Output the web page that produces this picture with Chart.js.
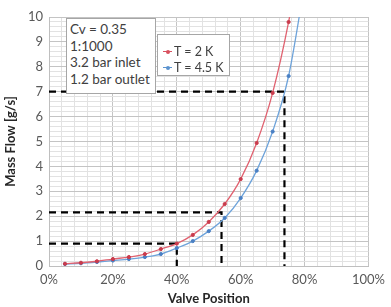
<!DOCTYPE html>
<html lang="en">
<head>
  <meta charset="UTF-8" />
  <title>Mass Flow vs Valve Position</title>
  <script src="https://cdn.jsdelivr.net/npm/chart.js"></script>
  <style>
    body { margin: 0; background: #fff; font-family: Lato, "Open Sans", sans-serif; }
    .wrap { position: relative; width: 391px; height: 307px; }
    .note { position: absolute; left: 66px; top: 18px; width: 82px; height: 70px; padding: 2px 3px; background: #fff; border: 1px solid #a6a6a6; font-size: 13.5px; line-height: 16.5px; color: #404040; }
    .legend { position: absolute; left: 157px; top: 34px; width: 71px; height: 40px; background: #fff; border: 1px solid #a6a6a6; font-size: 12.5px; color: #404040; }
    .legend div { position: absolute; left: 5px; height: 16px; line-height: 16px; white-space: nowrap; }
    .legend i { display: inline-block; position: relative; width: 9px; height: 1px; vertical-align: middle; margin-right: 2px; top: -1px; }
    .legend i:after { content: ""; position: absolute; left: 3px; top: -1.5px; width: 4px; height: 4px; border-radius: 2px; background: inherit; }
  </style>
</head>
<body>
  <div class="wrap">
    <canvas id="flow-chart" width="391" height="307"></canvas>
    <div class="note">Cv = 0.35<br>1:1000<br>3.2 bar inlet<br>1.2 bar outlet</div>
    <div class="legend">
      <div style="top:9px"><i style="background:#d9505e"></i>T = 2 K</div>
      <div style="top:25px"><i style="background:#5b93cf"></i>T = 4.5 K</div>
    </div>
  </div>
  <script>
    // valve position in %
    const valvePos = [5, 10, 15, 20, 25, 30, 35, 40, 45, 50, 55, 60, 65, 70, 75, 80];
    // mass flow g/s
    const flow2K = [0.09, 0.13, 0.19, 0.28, 0.36, 0.48, 0.68, 0.9, 1.25, 1.77, 2.49, 3.49, 4.94, 6.95, 9.8, 13.5];
    const flow45K = [0.08, 0.11, 0.16, 0.22, 0.28, 0.36, 0.48, 0.72, 1.0, 1.4, 1.93, 2.73, 3.83, 5.4, 7.63, 11.3];
    // dashed reading guides: valve position / flow pairs
    const guidePos = [40, 54, 73.7];
    const guideFlow = [0.9, 2.15, 7];

    const toPoints = (xs, ys) => xs.map((x, i) => ({ x: x, y: ys[i] }));

    const series = (label, data, line, dot) => ({
      label: label,
      data: toPoints(valvePos, data),
      borderColor: line,
      backgroundColor: dot,
      pointBackgroundColor: dot,
      pointBorderColor: dot,
      borderWidth: 1.3,
      pointRadius: 1.6,
      pointBorderWidth: 1,
      cubicInterpolationMode: 'monotone',
      order: 1
    });

    const guides = guidePos.map((p, i) => ({
      label: 'guide' + i,
      data: [{ x: 0, y: guideFlow[i] }, { x: p, y: guideFlow[i] }, { x: p, y: 0 }],
      borderColor: '#000',
      borderWidth: 2.2,
      borderDash: [7, 5],
      pointRadius: 0,
      tension: 0,
      order: 2
    }));

    const tickFont = { family: 'Lato', size: 13 };
    const titleFont = { family: 'Lato', size: 13, weight: 'bold' };

    new Chart(document.getElementById('flow-chart'), {
      type: 'line',
      data: {
        datasets: [
          series('T = 2 K', flow2K, '#e06270', '#c93b4c'),
          series('T = 4.5 K', flow45K, '#6ea3da', '#4a80c4')
        ].concat(guides)
      },
      options: {
        responsive: false,
        animation: false,
        layout: { padding: { left: 3, right: 14, top: 17, bottom: 0 } },
        plugins: { legend: { display: false }, tooltip: { enabled: false } },
        scales: {
          x: {
            type: 'linear', min: 0, max: 100,
            afterFit: s => { s.height = 41; },
            ticks: {
              stepSize: 4, autoSkip: false, maxRotation: 0, padding: 6,
              color: '#595959', font: tickFont,
              callback: v => (v % 20 === 0 ? v + '%' : '')
            },
            grid: {
              drawTicks: false,
              color: c => (c.tick && c.tick.value % 20 === 0 ? '#c4c4c4' : '#e2e2e2')
            },
            border: { color: '#bfbfbf' },
            title: { display: true, text: 'Valve Position', color: '#262626', font: titleFont, padding: { top: 0, bottom: 0 } }
          },
          y: {
            min: 0, max: 10,
            afterFit: s => { s.width = 46; },
            ticks: {
              stepSize: 0.2, autoSkip: false, padding: 6,
              color: '#595959', font: tickFont,
              callback: v => (Math.abs(v - Math.round(v)) < 1e-6 ? Math.round(v) : '')
            },
            grid: {
              drawTicks: false,
              color: c => (c.tick && Math.abs(c.tick.value - Math.round(c.tick.value)) < 1e-6 ? '#c4c4c4' : '#e2e2e2')
            },
            border: { color: '#bfbfbf' },
            title: { display: true, text: 'Mass Flow [g/s]', color: '#262626', font: titleFont, padding: { top: 0, bottom: 2 } }
          }
        }
      }
    });
  </script>
</body>
</html>
